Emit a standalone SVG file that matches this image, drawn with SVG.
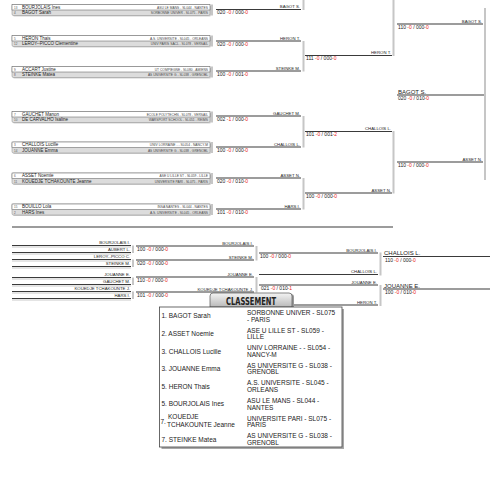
<svg xmlns="http://www.w3.org/2000/svg" width="500" height="500" viewBox="0 0 500 500">
<defs>
<style>
text{font-family:"Liberation Sans",Arial,sans-serif;fill:#222}
.ln{stroke:#3a3a3a;stroke-width:1.1}
.sh{stroke:#bdbdbd;stroke-width:0.8}
.bar{fill:#c6c6c6}
.lbl{font-size:4.3px;text-anchor:end}
.sc{font-size:5px}
.r{fill:#e8201a}
.big{font-size:6px}
.nm{font-size:4.5px}
.club{font-size:3.3px;text-anchor:end;fill:#444}
.seed{font-size:3px;fill:#555}
.tb{font-size:6.5px}
.box{fill:#dcdcdc;stroke:#9a9a9a;stroke-width:0.6}
.row1{fill:#fff;stroke:#555;stroke-width:0.5}
.bsh{fill:#cfcfcf}
</style>
<linearGradient id="tabg" x1="0" y1="0" x2="0" y2="1">
<stop offset="0" stop-color="#f4f4f4"/>
<stop offset="1" stop-color="#b9b9b9"/>
</linearGradient>
</defs>
<rect width="500" height="500" fill="#fff"/>

<!-- first round matches -->
<g id="m1">
<rect class="bsh" x="13" y="5.5" width="198" height="11" rx="1.5"/>
<rect class="box" x="12" y="4.5" width="198" height="11" rx="1.5"/>
<rect class="row1" x="12" y="4.5" width="198" height="5.5"/>
<text class="seed" x="14" y="8.8">13</text><text class="seed" x="14" y="14.2">4</text>
<text class="nm" x="22" y="8.9">BOURJOLAIS Ines</text><text class="nm" x="22" y="14.4">BAGOT Sarah</text>
<text class="club" x="208" y="8.6">ASU LE MANS - SL044 - NANTES</text><text class="club" x="208" y="14.1">SORBONNE UNIVER - SL075 - PARIS</text>
<rect class="bar" x="211" y="4.5" width="2" height="11"/>
</g>
<g id="m2">
<rect class="bsh" x="13" y="36.5" width="198" height="11" rx="1.5"/>
<rect class="box" x="12" y="35.5" width="198" height="11" rx="1.5"/>
<rect class="row1" x="12" y="35.5" width="198" height="5.5"/>
<text class="seed" x="14" y="39.8">5</text><text class="seed" x="14" y="45.2">12</text>
<text class="nm" x="22" y="39.9">HERON Thais</text><text class="nm" x="22" y="45.4">LEROY--PICCO Clementine</text>
<text class="club" x="208" y="39.6">A.S. UNIVERSITE - SL045 - ORLEANS</text><text class="club" x="208" y="45.1">UNIV PARIS SACL - SL078 - VERSAIL</text>
<rect class="bar" x="211" y="35.5" width="2" height="11"/>
</g>
<g id="m3">
<rect class="bsh" x="13" y="67.5" width="198" height="11" rx="1.5"/>
<rect class="box" x="12" y="66.5" width="198" height="11" rx="1.5"/>
<rect class="row1" x="12" y="66.5" width="198" height="5.5"/>
<text class="seed" x="14" y="70.8">9</text><text class="seed" x="14" y="76.2">8</text>
<text class="nm" x="22" y="70.9">ACCART Justine</text><text class="nm" x="22" y="76.4">STEINKE Matea</text>
<text class="club" x="208" y="70.6">UT COMPIEGNE - SL080 - AMIENS</text><text class="club" x="208" y="76.1">AS UNIVERSITE G - SL038 - GRENOBL</text>
<rect class="bar" x="211" y="66.5" width="2" height="11"/>
</g>
<g id="m4">
<rect class="bsh" x="13" y="112.5" width="198" height="11" rx="1.5"/>
<rect class="box" x="12" y="111.5" width="198" height="11" rx="1.5"/>
<rect class="row1" x="12" y="111.5" width="198" height="5.5"/>
<text class="seed" x="14" y="115.8">7</text><text class="seed" x="14" y="121.2">10</text>
<text class="nm" x="22" y="115.9">GAUCHET Manon</text><text class="nm" x="22" y="121.4">DE CARVALHO Isaline</text>
<text class="club" x="208" y="115.6">ECOLE POLYTECHN - SL078 - VERSAIL</text><text class="club" x="208" y="121.1">WARSPORT SCHOOL - SL051 - REIMS</text>
<rect class="bar" x="211" y="111.5" width="2" height="11"/>
</g>
<g id="m5">
<rect class="bsh" x="13" y="143" width="198" height="11" rx="1.5"/>
<rect class="box" x="12" y="142" width="198" height="11" rx="1.5"/>
<rect class="row1" x="12" y="142" width="198" height="5.5"/>
<text class="seed" x="14" y="146.3">3</text><text class="seed" x="14" y="151.7">14</text>
<text class="nm" x="22" y="146.4">CHALLOIS Lucille</text><text class="nm" x="22" y="151.9">JOUANNE Emma</text>
<text class="club" x="208" y="146.1">UNIV LORRAINE - - SL054 - NANCY-M</text><text class="club" x="208" y="151.6">AS UNIVERSITE G - SL038 - GRENOBL</text>
<rect class="bar" x="211" y="142" width="2" height="11"/>
</g>
<g id="m6">
<rect class="bsh" x="13" y="174" width="198" height="11" rx="1.5"/>
<rect class="box" x="12" y="173" width="198" height="11" rx="1.5"/>
<rect class="row1" x="12" y="173" width="198" height="5.5"/>
<text class="seed" x="14" y="177.3">6</text><text class="seed" x="14" y="182.7">11</text>
<text class="nm" x="22" y="177.4">ASSET Noemie</text><text class="nm" x="22" y="182.9">KOUEDJE TCHAKOUNTE Jeanne</text>
<text class="club" x="208" y="177.1">ASE U LILLE ST - SL059 - LILLE</text><text class="club" x="208" y="182.6">UNIVERSITE PARI - SL075 - PARIS</text>
<rect class="bar" x="211" y="173" width="2" height="11"/>
</g>
<g id="m7">
<rect class="bsh" x="13" y="205" width="198" height="11" rx="1.5"/>
<rect class="box" x="12" y="204" width="198" height="11" rx="1.5"/>
<rect class="row1" x="12" y="204" width="198" height="5.5"/>
<text class="seed" x="14" y="208.3">15</text><text class="seed" x="14" y="213.7">2</text>
<text class="nm" x="22" y="208.4">BOUILLO Lola</text><text class="nm" x="22" y="213.9">HARS Ines</text>
<text class="club" x="208" y="208.1">INSA NANTES - SL044 - NANTES</text><text class="club" x="208" y="213.6">A.S. UNIVERSITE - SL045 - ORLEANS</text>
<rect class="bar" x="211" y="204" width="2" height="11"/>
</g>

<!-- connectors / bracket lines -->
<g id="connectors">
<path class="ln" d="M216 9.5H301M216 41H301M216 71H301M216 116H301M216 147H301M216 178H301M216 209H301"/>
<rect class="bar" x="302.5" y="0" width="2" height="10"/>
<rect class="bar" x="302.5" y="41" width="2" height="30.5"/>
<rect class="bar" x="302.5" y="116" width="2" height="31.5"/>
<rect class="bar" x="302.5" y="178" width="2" height="31.5"/>
<path class="ln" d="M305 55.5H392M305 131.5H392M305 193H392"/>
<rect class="bar" x="392.5" y="0" width="2" height="56"/>
<rect class="bar" x="392.5" y="131" width="2" height="62.5"/>
<path class="ln" d="M397 24H483M397 162H483M397 95H485"/>
<rect class="bar" x="484" y="8" width="2" height="172"/>
<path class="ln" d="M12 227H393"/>
<path class="ln" d="M12 245.5H131M12 252.5H131M12 259.5H131M12 266.5H131M12 277.5H131M12 284.5H131M12 291.5H131M12 298.5H131"/>
<path class="sh" d="M12 247H131M12 254H131M12 261H131M12 268H131M12 279H131M12 286H131M12 293H131M12 300H131"/>
<rect class="bar" x="132" y="245.5" width="2" height="7.5"/>
<rect class="bar" x="132" y="259.5" width="2" height="7.5"/>
<rect class="bar" x="132" y="277.5" width="2" height="7.5"/>
<rect class="bar" x="132" y="291.5" width="2" height="7.5"/>
<path class="ln" d="M136 246H254M136 260H254M136 277H254M136 292H254"/>
<rect class="bar" x="255.5" y="246" width="2" height="14.5"/>
<rect class="bar" x="255.5" y="277" width="2" height="15.5"/>
<path class="ln" d="M259 253H378M259 274.5H378M259 285H378M259 305H378"/>
<rect class="bar" x="379.5" y="252.5" width="2" height="23"/>
<rect class="bar" x="379.5" y="285" width="2" height="21"/>
<path class="ln" d="M383 256.5H490M383 289H490"/>
</g>

<g id="r2-labels">
<text class="lbl" x="300" y="8.3">BAGOT S.</text>
<text class="sc" x="217" y="14.2">020<tspan class="r"> -0</tspan> / 000<tspan class="r">-0</tspan></text>
<text class="lbl" x="300" y="39.8">HERON T.</text>
<text class="sc" x="217" y="45.6">020<tspan class="r"> -0</tspan> / 000<tspan class="r">-0</tspan></text>
<text class="lbl" x="300" y="69.8">STEINKE M.</text>
<text class="sc" x="217" y="75.6">100<tspan class="r"> -0</tspan> / 001<tspan class="r">-0</tspan></text>
<text class="lbl" x="300" y="114.8">GAUCHET M.</text>
<text class="sc" x="217" y="120.6">002<tspan class="r"> -1</tspan> / 000<tspan class="r">-0</tspan></text>
<text class="lbl" x="300" y="145.8">CHALLOIS L.</text>
<text class="sc" x="217" y="151.6">100<tspan class="r"> -0</tspan> / 000<tspan class="r">-0</tspan></text>
<text class="lbl" x="300" y="176.8">ASSET N.</text>
<text class="sc" x="217" y="182.6">020<tspan class="r"> -0</tspan> / 010<tspan class="r">-0</tspan></text>
<text class="lbl" x="300" y="207.8">HARS I.</text>
<text class="sc" x="217" y="213.6">101<tspan class="r"> -0</tspan> / 010<tspan class="r">-0</tspan></text>
</g>
<g id="r3-labels">
<text class="lbl" x="391" y="54.3">HERON T.</text>
<text class="sc" x="306" y="60">111<tspan class="r"> -0</tspan> / 000<tspan class="r">-0</tspan></text>
<text class="lbl" x="391" y="130.3">CHALLOIS L.</text>
<text class="sc" x="306" y="136">101<tspan class="r"> -0</tspan> / 001<tspan class="r">-2</tspan></text>
<text class="lbl" x="391" y="191.8">ASSET N.</text>
<text class="sc" x="306" y="197.6">100<tspan class="r"> -0</tspan> / 000<tspan class="r">-0</tspan></text>
</g>
<g id="r4-labels">
<text class="lbl" x="482" y="22.8">BAGOT S.</text>
<text class="sc" x="398" y="28.8">110<tspan class="r"> -0</tspan> / 000<tspan class="r">-0</tspan></text>
<text class="lbl" x="482" y="160.8">ASSET N.</text>
<text class="sc" x="398" y="166.8">110<tspan class="r"> -0</tspan> / 000<tspan class="r">-0</tspan></text>
<text class="big" x="398" y="93.6">BAGOT S.</text>
<text class="sc" x="398" y="99.8">020<tspan class="r"> -0</tspan> / 010<tspan class="r">-0</tspan></text>
</g>
<g id="placement-labels">
<text class="lbl" x="130" y="244.2">BOURJOLAIS I.</text>
<text class="lbl" x="130" y="251.2">AUBERT L.</text>
<text class="lbl" x="130" y="258.2">LEROY--PICCO C.</text>
<text class="lbl" x="130" y="265.2">STEINKE M.</text>
<text class="lbl" x="130" y="276.2">JOUANNE E.</text>
<text class="lbl" x="130" y="283.2">GAUCHET M.</text>
<text class="lbl" x="130" y="290.2">KOUEDJE TCHAKOUNTE J.</text>
<text class="lbl" x="130" y="297.2">HARS I.</text>
<text class="sc" x="137" y="250.8">100<tspan class="r"> -0</tspan> / 000<tspan class="r">-0</tspan></text>
<text class="sc" x="137" y="265">020<tspan class="r"> -0</tspan> / 000<tspan class="r">-0</tspan></text>
<text class="sc" x="137" y="281.8">110<tspan class="r"> -0</tspan> / 000<tspan class="r">-0</tspan></text>
<text class="sc" x="137" y="297">101<tspan class="r"> -0</tspan> / 000<tspan class="r">-0</tspan></text>
<text class="lbl" x="253" y="244.6">BOURJOLAIS I.</text>
<text class="lbl" x="253" y="258.8">STEINKE M.</text>
<text class="lbl" x="253" y="275.6">JOUANNE E.</text>
<text class="lbl" x="253" y="290.8">KOUEDJE TCHAKOUNTE J.</text>
<text class="sc" x="260" y="257.8">100<tspan class="r"> -0</tspan> / 000<tspan class="r">-0</tspan></text>
<text class="sc" x="261" y="289.6">021<tspan class="r"> -0</tspan> / 010<tspan class="r">-1</tspan></text>
<text class="lbl" x="377" y="251.8">BOURJOLAIS I.</text>
<text class="lbl" x="377" y="273.3">CHALLOIS L.</text>
<text class="lbl" x="377" y="283.8">JOUANNE E.</text>
<text class="lbl" x="377" y="303.8">HERON T.</text>
<text class="big" x="384" y="255.2">CHALLOIS L.</text>
<text class="sc" x="385" y="262.2">110<tspan class="r"> -0</tspan> / 000<tspan class="r">-0</tspan></text>
<text class="big" x="384" y="287.6">JOUANNE E.</text>
<text class="sc" x="385" y="294">100<tspan class="r"> -0</tspan> / 010<tspan class="r">-0</tspan></text>
</g>

<g id="classement">
<path d="M212 309V297Q212 294 215 294H291Q294 294 294 297V309Z" fill="#9a9a9a"/>
<path d="M210 307V296Q210 293 213 293H289Q292 293 292 296V307Z" fill="url(#tabg)" stroke="#555" stroke-width="0.7"/>
<text x="226" y="305" textLength="50" lengthAdjust="spacingAndGlyphs" style="font-family:'DejaVu Sans Condensed','DejaVu Sans',sans-serif;font-weight:bold;font-size:10px;fill:#222">CLASSEMENT</text>
<rect x="161.5" y="309" width="182.5" height="140" fill="#a8a8a8"/>
<rect x="159.5" y="307" width="182.5" height="140" fill="#fff" stroke="#444" stroke-width="0.8"/>
<g>
<text class="tb" x="161.5" y="318.3">1. BAGOT Sarah</text>
<text class="tb" x="247" y="315">SORBONNE UNIVER - SL075</text><text class="tb" x="247" y="321.6">- PARIS</text>
<text class="tb" x="161.5" y="335.9">2. ASSET Noemie</text>
<text class="tb" x="247" y="332.6">ASE U LILLE ST - SL059 -</text><text class="tb" x="247" y="339.2">LILLE</text>
<text class="tb" x="161.5" y="353.5">3. CHALLOIS Lucille</text>
<text class="tb" x="247" y="350.2">UNIV LORRAINE - - SL054 -</text><text class="tb" x="247" y="356.8">NANCY-M</text>
<text class="tb" x="161.5" y="371.1">3. JOUANNE Emma</text>
<text class="tb" x="247" y="367.8">AS UNIVERSITE G - SL038 -</text><text class="tb" x="247" y="374.4">GRENOBL</text>
<text class="tb" x="161.5" y="388.7">5. HERON Thais</text>
<text class="tb" x="247" y="385.4">A.S. UNIVERSITE - SL045 -</text><text class="tb" x="247" y="392">ORLEANS</text>
<text class="tb" x="161.5" y="406.3">5. BOURJOLAIS Ines</text>
<text class="tb" x="247" y="403">ASU LE MANS - SL044 -</text><text class="tb" x="247" y="409.6">NANTES</text>
<text class="tb" x="160.5" y="423.9">7.</text>
<text class="tb" x="168" y="419">KOUEDJE</text><text class="tb" x="167" y="427.3">TCHAKOUNTE Jeanne</text>
<text class="tb" x="247" y="420.6">UNIVERSITE PARI - SL075 -</text><text class="tb" x="247" y="427.2">PARIS</text>
<text class="tb" x="161.5" y="441.5">7. STEINKE Matea</text>
<text class="tb" x="247" y="438.2">AS UNIVERSITE G - SL038 -</text><text class="tb" x="247" y="444.8">GRENOBL</text>
</g>
</g>
</svg>
